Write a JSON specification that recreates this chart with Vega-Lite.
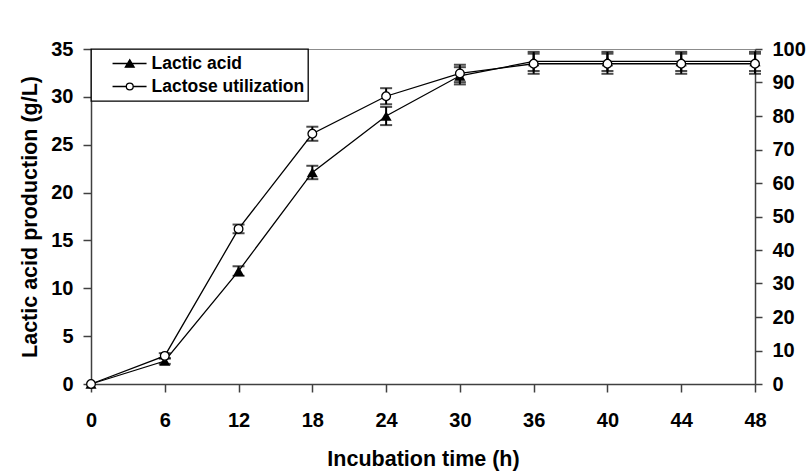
{
  "$schema": "https://vega.github.io/schema/vega-lite/v6.json",
  "width": 664,
  "height": 335,
  "autosize": {"type": "none"},
  "padding": {"left": 91, "top": 49, "right": 55, "bottom": 92},
  "background": "white",
  "datasets": {
    "d": [
      {"t": 0, "s": "Lactic acid", "v": 0, "e": 0},
      {"t": 6, "s": "Lactic acid", "v": 2.4, "e": 0.3},
      {"t": 12, "s": "Lactic acid", "v": 11.8, "e": 0.5},
      {"t": 18, "s": "Lactic acid", "v": 22.1, "e": 0.7},
      {"t": 24, "s": "Lactic acid", "v": 28.0, "e": 0.95},
      {"t": 30, "s": "Lactic acid", "v": 32.2, "e": 0.9},
      {"t": 36, "s": "Lactic acid", "v": 33.7, "e": 1.0},
      {"t": 40, "s": "Lactic acid", "v": 33.7, "e": 1.0},
      {"t": 44, "s": "Lactic acid", "v": 33.7, "e": 1.0},
      {"t": 48, "s": "Lactic acid", "v": 33.7, "e": 1.0},
      {"t": 0, "s": "Lactose utilization", "v": 0, "e": 0},
      {"t": 6, "s": "Lactose utilization", "v": 8.4, "e": 0.8},
      {"t": 12, "s": "Lactose utilization", "v": 46.3, "e": 1.3},
      {"t": 18, "s": "Lactose utilization", "v": 74.7, "e": 2.1},
      {"t": 24, "s": "Lactose utilization", "v": 85.9, "e": 2.4},
      {"t": 30, "s": "Lactose utilization", "v": 92.7, "e": 2.6},
      {"t": 36, "s": "Lactose utilization", "v": 95.6, "e": 3.0},
      {"t": 40, "s": "Lactose utilization", "v": 95.6, "e": 3.0},
      {"t": 44, "s": "Lactose utilization", "v": 95.6, "e": 3.0},
      {"t": 48, "s": "Lactose utilization", "v": 95.6, "e": 3.0}
    ]
  },
  "data": {"name": "d"},
  "encoding": {
    "x": {
      "field": "t",
      "type": "ordinal",
      "scale": {"type": "point", "padding": 0},
      "axis": {"title": "Incubation time (h)", "labelAngle": 0, "tickSize": 8, "labelPadding": 18, "titlePadding": 18, "grid": false}
    }
  },
  "layer": [
    {
      "encoding": {
        "y": {
          "field": "v",
          "type": "quantitative",
          "scale": {"domain": [0, 35], "nice": false, "zero": true},
          "axis": {"orient": "left", "title": "Lactic acid production (g/L)", "values": [0, 5, 10, 15, 20, 25, 30, 35], "tickSize": 8, "labelPadding": 10, "titlePadding": 9, "grid": false}
        }
      },
      "layer": [
        {
          "transform": [{"filter": "datum.s == 'Lactic acid'"}],
          "mark": {"type": "line", "color": "black", "strokeWidth": 1.3}
        },
        {
          "transform": [{"filter": "datum.s == 'Lactic acid' && datum.e > 0"}],
          "mark": {"type": "errorbar", "color": "black", "thickness": 2, "ticks": {"size": 12, "thickness": 2, "color": "black"}},
          "encoding": {"yError": {"field": "e"}}
        },
        {
          "transform": [{"filter": "datum.s == 'Lactic acid'"}],
          "mark": {"type": "point", "shape": "triangle-up", "filled": true, "color": "black", "size": 125, "opacity": 1}
        },
        {
          "mark": {"type": "point", "opacity": 0},
          "encoding": {
            "shape": {
              "field": "s",
              "type": "nominal",
              "scale": {
                "domain": ["Lactic acid", "Lactose utilization"],
                "range": [
                  "M-4.3,0H4.2M-1.1,0.92L0,-0.92L1.1,0.92Z",
                  "M-4.3,0H-0.86M0.86,0H4.2M-0.86,0A0.86,0.86,0,1,0,0.86,0A0.86,0.86,0,1,0,-0.86,0Z"
                ]
              },
              "legend": {"orient": "none", "legendX": 0, "legendY": 0, "title": null, "labelExpr": "datum.label + '\u00a0\u00a0\u00a0'"}
            },
            "fill": {
              "field": "s",
              "type": "nominal",
              "scale": {"domain": ["Lactic acid", "Lactose utilization"], "range": ["black", "white"]},
              "legend": {"orient": "none", "legendX": 0, "legendY": 0, "title": null, "labelExpr": "datum.label + '\u00a0\u00a0\u00a0'"}
            },
            "stroke": {
              "field": "s",
              "type": "nominal",
              "scale": {"domain": ["Lactic acid", "Lactose utilization"], "range": ["black", "black"]},
              "legend": {"orient": "none", "legendX": 0, "legendY": 0, "title": null, "labelExpr": "datum.label + '\u00a0\u00a0\u00a0'"}
            }
          }
        }
      ]
    },
    {
      "encoding": {
        "y": {
          "field": "v",
          "type": "quantitative",
          "scale": {"domain": [0, 100], "nice": false, "zero": true},
          "axis": {"orient": "right", "title": null, "values": [0, 10, 20, 30, 40, 50, 60, 70, 80, 90, 100], "tickSize": 7, "labelPadding": 10, "grid": false}
        }
      },
      "layer": [
        {
          "transform": [{"filter": "datum.s == 'Lactose utilization'"}],
          "mark": {"type": "line", "color": "black", "strokeWidth": 1.3}
        },
        {
          "transform": [{"filter": "datum.s == 'Lactose utilization' && datum.e > 0"}],
          "mark": {"type": "errorbar", "color": "black", "thickness": 2, "ticks": {"size": 12, "thickness": 2, "color": "black"}},
          "encoding": {"yError": {"field": "e"}}
        },
        {
          "transform": [{"filter": "datum.s == 'Lactose utilization'"}],
          "mark": {"type": "point", "shape": "circle", "filled": true, "fill": "white", "stroke": "black", "strokeWidth": 1.3, "size": 75, "opacity": 1}
        }
      ]
    }
  ],
  "resolve": {"scale": {"y": "independent"}},
  "config": {
    "font": "Liberation Sans",
    "view": {"stroke": "#8c8c8c", "strokeWidth": 1},
    "axis": {
      "labelFont": "Liberation Sans",
      "labelFontSize": 20,
      "labelFontWeight": "bold",
      "labelColor": "black",
      "titleFont": "Liberation Sans",
      "titleFontSize": 21.5,
      "titleFontWeight": "bold",
      "titleColor": "black",
      "domainColor": "#404040",
      "domainWidth": 1.5,
      "tickColor": "#404040",
      "tickWidth": 1.5,
      "grid": false
    },
    "legend": {
      "labelFont": "Liberation Sans",
      "labelFontSize": 17.5,
      "labelFontWeight": "bold",
      "labelColor": "black",
      "padding": 3,
      "fillColor": "white",
      "strokeColor": "black",
      "strokeWidth": 1.3,
      "cornerRadius": 0,
      "symbolStrokeColor": "black",
      "symbolStrokeWidth": 1.3,
      "symbolOpacity": 1,
      "symbolSize": 64,
      "symbolOffset": 27,
      "labelOffset": 13,
      "rowPadding": 0,
      "clipHeight": 23
    }
  }
}
